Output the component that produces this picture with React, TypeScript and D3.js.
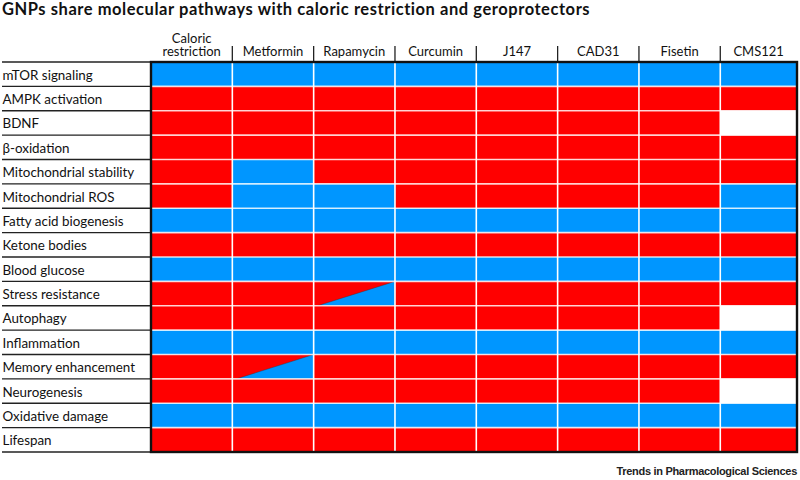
import React from "react";
import * as d3 from "d3";

const title = "GNPs share molecular pathways with caloric restriction and geroprotectors";
const source = "Trends in Pharmacological Sciences";

const columns = ["Caloric restriction", "Metformin", "Rapamycin", "Curcumin", "J147", "CAD31", "Fisetin", "CMS121"];
const headerLines = [["Caloric", "restriction"], ["Metformin"], ["Rapamycin"], ["Curcumin"], ["J147"], ["CAD31"], ["Fisetin"], ["CMS121"]];

const pathways = [
  "mTOR signaling",
  "AMPK activation",
  "BDNF",
  "β-oxidation",
  "Mitochondrial stability",
  "Mitochondrial ROS",
  "Fatty acid biogenesis",
  "Ketone bodies",
  "Blood glucose",
  "Stress resistance",
  "Autophagy",
  "Inflammation",
  "Memory enhancement",
  "Neurogenesis",
  "Oxidative damage",
  "Lifespan",
];

// R = increased (red), B = decreased (blue), W = not determined, S = mixed
const effects = [
  ["B", "B", "B", "B", "B", "B", "B", "B"],
  ["R", "R", "R", "R", "R", "R", "R", "R"],
  ["R", "R", "R", "R", "R", "R", "R", "W"],
  ["R", "R", "R", "R", "R", "R", "R", "R"],
  ["R", "B", "R", "R", "R", "R", "R", "R"],
  ["R", "B", "B", "R", "R", "R", "R", "B"],
  ["B", "B", "B", "B", "B", "B", "B", "B"],
  ["R", "R", "R", "R", "R", "R", "R", "R"],
  ["B", "B", "B", "B", "B", "B", "B", "B"],
  ["R", "R", "S", "R", "R", "R", "R", "R"],
  ["R", "R", "R", "R", "R", "R", "R", "W"],
  ["B", "B", "B", "B", "B", "B", "B", "B"],
  ["R", "S", "R", "R", "R", "R", "R", "R"],
  ["R", "R", "R", "R", "R", "R", "R", "W"],
  ["B", "B", "B", "B", "B", "B", "B", "B"],
  ["R", "R", "R", "R", "R", "R", "R", "R"],
];

const RED = "#ff0000";
const BLUE = "#0096ff";
const FONT = "Lato, 'Open Sans', sans-serif";

export default function App() {
  const W = 800, H = 480;
  const gridLeft = 151, gridRight = 797, gridTop = 62, gridBottom = 452;
  const x = d3.scaleBand<string>().domain(columns).range([gridLeft, 801.6]);
  const y = d3.scaleBand<string>().domain(pathways).range([gridTop, gridBottom]);
  const bw = x.bandwidth();
  const bh = y.bandwidth();
  const colorOf = d3.scaleOrdinal<string, string>().domain(["R", "B", "W"]).range([RED, BLUE, "#ffffff"]);
  const lineGap = 13;

  return (
    <svg width={W} height={H} style={{ position: "absolute", left: 0, top: 0, background: "#fff" }} fontFamily={FONT}>
      <defs>
        <clipPath id="gridClip">
          <rect x={gridLeft} y={gridTop} width={gridRight - gridLeft} height={gridBottom - gridTop} />
        </clipPath>
      </defs>
      <text x={2} y={15} fontSize={16.5} fontWeight={700} fill="#111" letterSpacing={0.55}>{title}</text>

      {/* header labels */}
      {columns.map((c, i) => {
        const x0 = x(c)!;
        const x1 = Math.min(x0 + bw, gridRight);
        const cx = (x0 + x1) / 2;
        const lines = headerLines[i];
        return (
          <g key={c}>
            <text x={cx} y={56 - (lines.length - 1) * lineGap} textAnchor="middle" fontSize={13} fill="#111">
              {lines.map((l, j) => (
                <tspan key={l} x={cx} dy={j === 0 ? 0 : lineGap}>{l}</tspan>
              ))}
            </text>
            {i > 0 && <line x1={x0} x2={x0} y1={46} y2={gridTop} stroke="#222" strokeWidth={1.3} />}
          </g>
        );
      })}

      {/* row labels and lines */}
      {pathways.map((p) => (
        <text key={p} x={2.5} y={y(p)! + bh / 2 + 5.5} fontSize={13.4} fill="#111">{p}</text>
      ))}
      {d3.range(pathways.length + 1).map((k) => {
        const yy = gridTop + k * bh;
        return <line key={k} x1={2} x2={gridLeft} y1={yy} y2={yy} stroke="#222" strokeWidth={1.4} />;
      })}

      {/* cells */}
      <g clipPath="url(#gridClip)">
        {pathways.map((p, r) =>
          columns.map((c, ci) => {
            const v = effects[r][ci];
            const x0 = x(c)!, y0 = y(p)!;
            const x1 = Math.min(x0 + bw, gridRight);
            if (v === "S") {
              return (
                <g key={c}>
                  <rect x={x0} y={y0} width={x1 - x0} height={bh} fill={RED} />
                  <path d={`M${x0 + 4},${y0 + bh}L${x1},${y0}L${x1},${y0 + bh}Z`} fill={BLUE} stroke="#333" strokeWidth={0.4} />
                </g>
              );
            }
            return <rect key={c} x={x0} y={y0} width={x1 - x0} height={bh} fill={colorOf(v)} />;
          })
        )}
        {columns.slice(1).map((c) => (
          <line key={c} x1={x(c)!} x2={x(c)!} y1={gridTop} y2={gridBottom} stroke="#fff" strokeWidth={1.6} />
        ))}
        {pathways.slice(1).map((p) => (
          <line key={p} x1={gridLeft} x2={gridRight} y1={y(p)!} y2={y(p)!} stroke="#fff" strokeOpacity={0.8} strokeWidth={1.6} />
        ))}
      </g>
      <rect x={gridLeft} y={gridTop} width={gridRight - gridLeft} height={gridBottom - gridTop} fill="none" stroke="#111" strokeWidth={2.4} />

      <text x={797} y={475} textAnchor="end" fontSize={11} fontWeight={700} fill="#222" fontFamily="'Liberation Sans', Arial, sans-serif" letterSpacing={-0.3}>{source}</text>
    </svg>
  );
}
